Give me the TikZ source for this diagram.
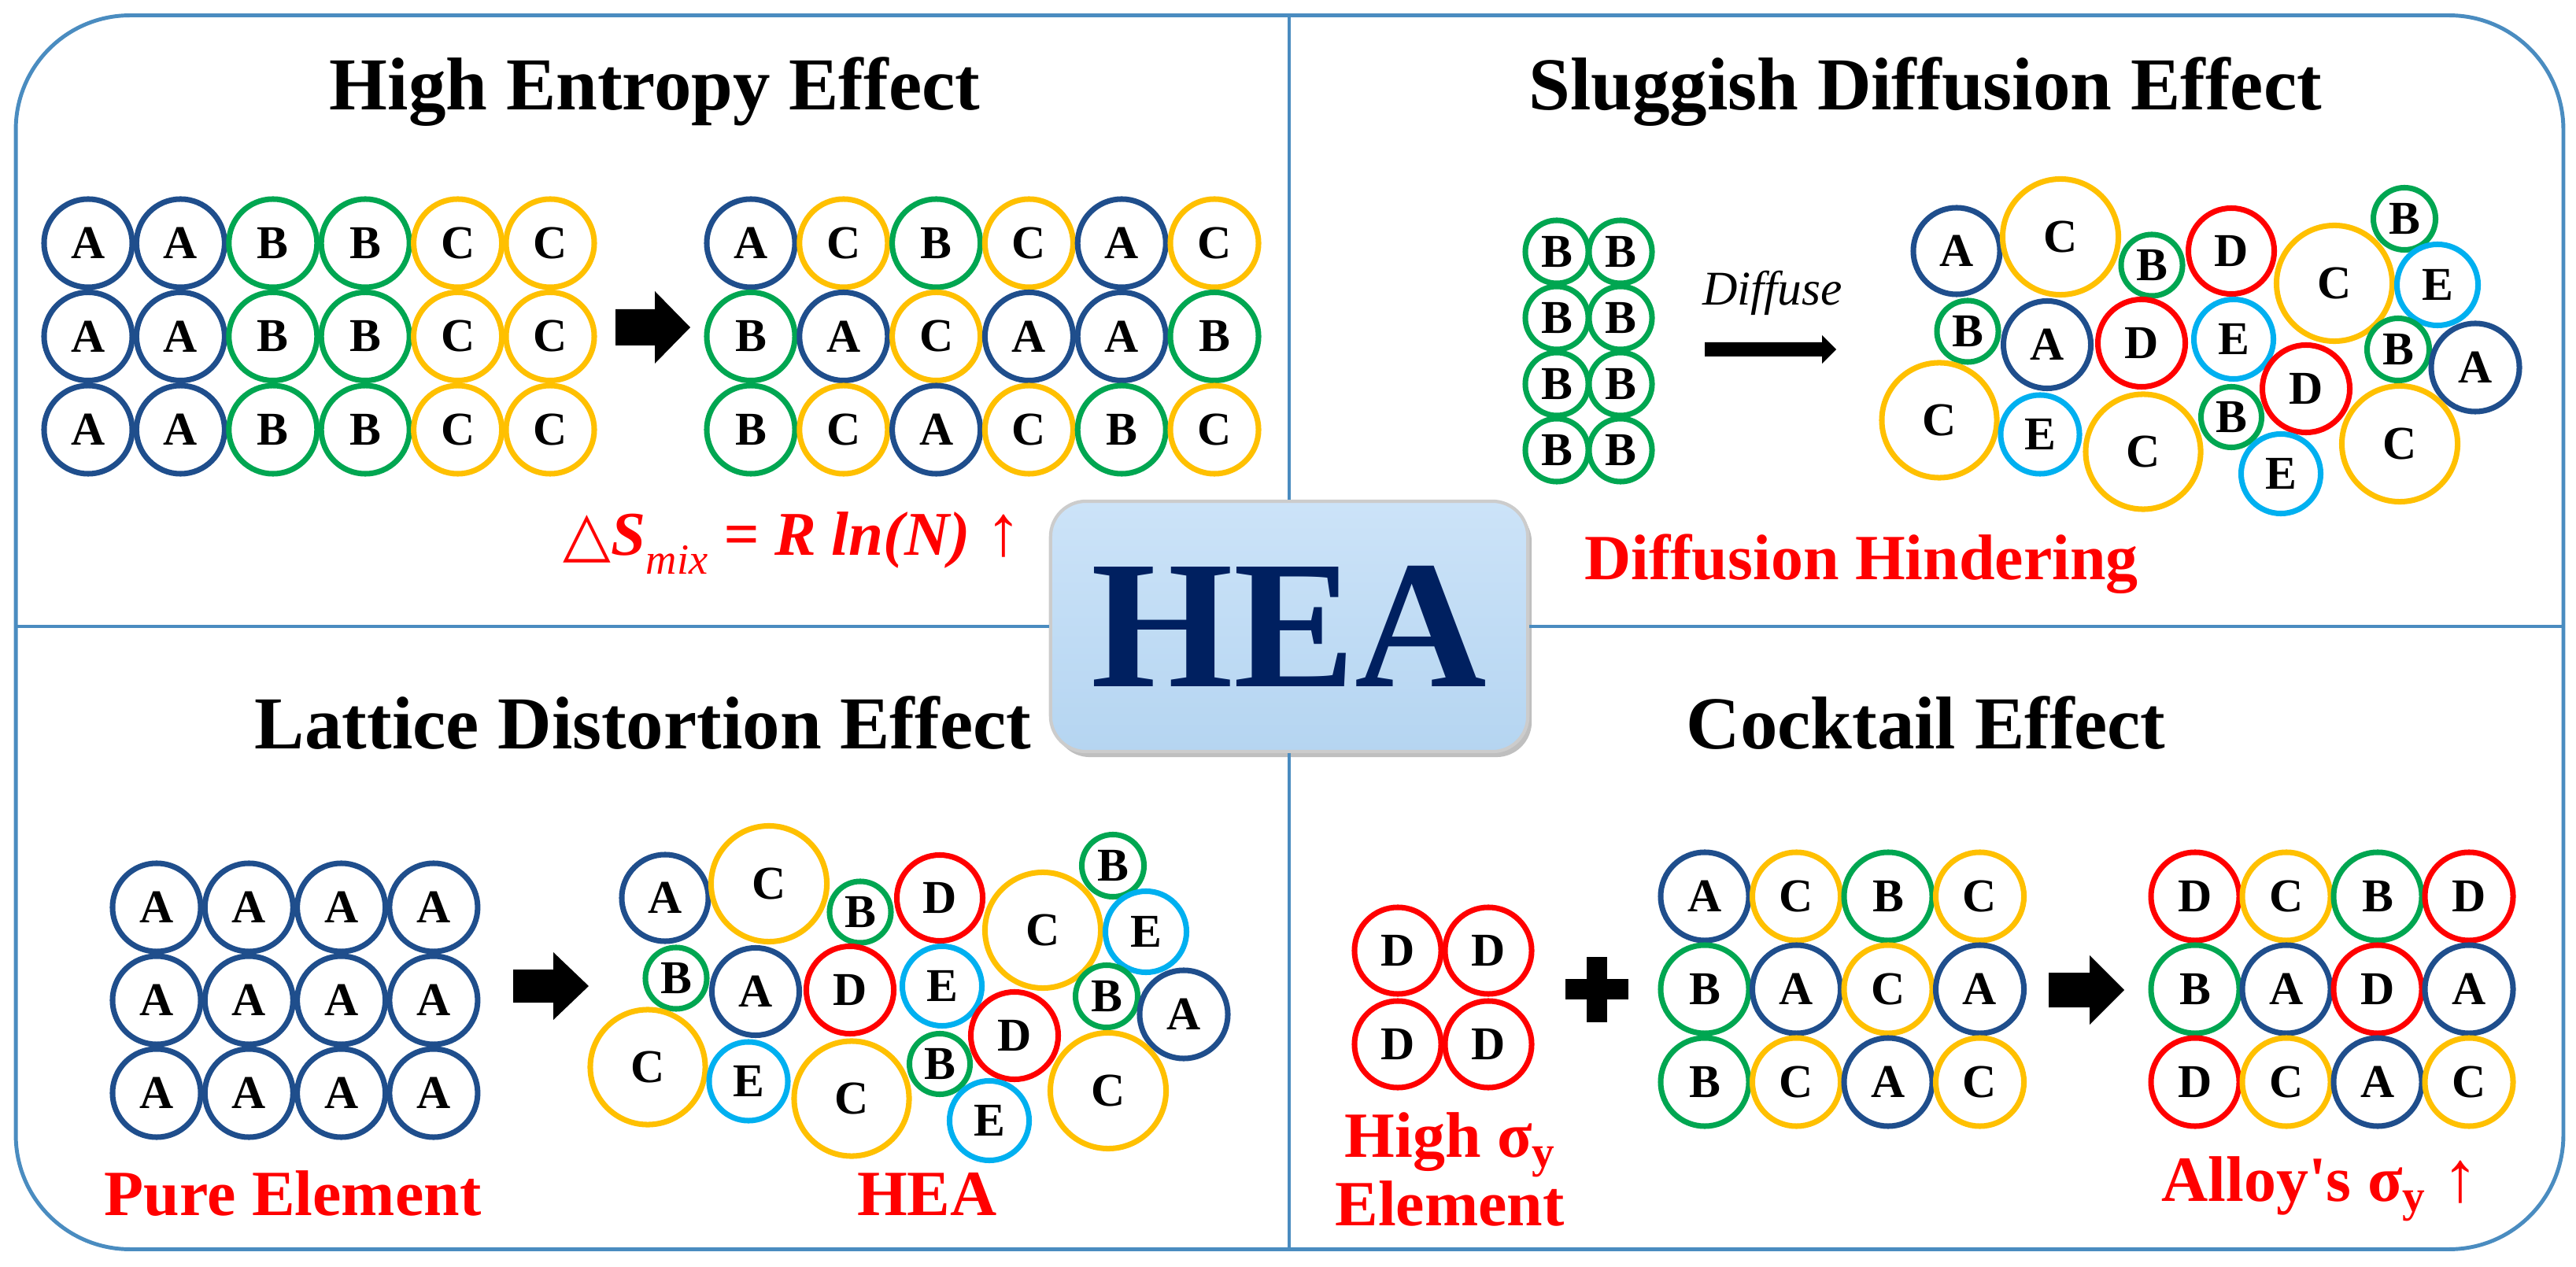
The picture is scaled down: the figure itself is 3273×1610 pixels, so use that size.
\documentclass[tikz,border=0pt]{standalone}
\usepackage{fontspec}
\setmainfont{Liberation Serif}
\newfontfamily\symfont{DejaVu Sans}
\usetikzlibrary{shadows}
\definecolor{atA}{HTML}{1F4E8C}
\definecolor{atB}{HTML}{00A651}
\definecolor{atC}{HTML}{FFC000}
\definecolor{atD}{HTML}{FF0000}
\definecolor{atE}{HTML}{00B0F0}
\definecolor{framec}{HTML}{4A8CC0}
\definecolor{heatxt}{HTML}{002060}
\definecolor{boxfill}{HTML}{B5D5F1}
\definecolor{boxtop}{HTML}{CCE3F8}
\definecolor{lblred}{HTML}{FF0000}
\begin{document}
\begin{tikzpicture}[x=0.01cm, y=-0.01cm,
  atom/.style={circle, draw=at#1, line width=2pt, inner sep=0pt,
    font=\fontsize{17}{17}\selectfont\bfseries, text=black},
  gridatom/.style={atom=#1, minimum size=1.12cm},
  title/.style={font=\fontsize{27}{30}\selectfont\bfseries, anchor=base},
  redlbl/.style={font=\fontsize{23.3}{26}\selectfont\bfseries, text=lblred, anchor=base},
  blockarrow/.style={fill=black},
  divider/.style={draw=framec, line width=1.4pt}
]
\fill[white] (0,0) rectangle (3273,1610);
\useasboundingbox (0,0) rectangle (3273,1610);

% frame
\node[draw=framec, line width=1.4pt, rounded corners=1.45cm, minimum width=32.35cm,
  minimum height=15.67cm, inner sep=0pt] (frame) at (1638.5,803.5) {};

% HEA box
\node[draw=gray!40, line width=1.2pt, rounded corners=0.45cm, minimum width=6.06cm,
  minimum height=3.18cm, top color=boxtop, bottom color=boxfill,
  drop shadow={shadow xshift=0.05cm, shadow yshift=-0.07cm, opacity=0.5},
  text=heatxt, font=\fontsize{66}{70}\selectfont\bfseries, inner sep=0pt] (hea) at (1638,796) {HEA};

\draw[divider] (hea.north) -- (hea.north |- frame.north);
\draw[divider] (hea.south) -- (hea.south |- frame.south);
\draw[divider] (hea.west) -- (hea.west -| frame.west);
\draw[divider] (hea.east) -- (hea.east -| frame.east);

% titles
\node[title] (t1) at (832,140) {High Entropy Effect};
\node[title] (t2) at (2446,140) {Sluggish Diffusion Effect};
\node[title] (t3) at (817,952) {Lattice Distortion Effect};
\node[title] (t4) at (2447,952) {Cocktail Effect};

% ---------- High entropy panel
\foreach \row [count=\ri from 0] in {{A,A,B,B,C,C},{A,A,B,B,C,C},{A,A,B,B,C,C}} {
  \foreach \l [count=\ci from 0] in \row {
    \node[gridatom=\l] (tlL-\ri-\ci) at ({112+117.4*\ci},{309+118.5*\ri}) {\l};
  }
}
\foreach \row [count=\ri from 0] in {{A,C,B,C,A,C},{B,A,C,A,A,B},{B,C,A,C,B,C}} {
  \foreach \l [count=\ci from 0] in \row {
    \node[gridatom=\l] (tlR-\ri-\ci) at ({954+117.8*\ci},{309+118.5*\ri}) {\l};
  }
}
\fill[blockarrow] (782,393) -- (832,393) -- (832,370) -- (877,416) -- (832,462) -- (832,439) -- (782,439) -- cycle;
\node[anchor=base, text=lblred, font=\fontsize{22.5}{24}\selectfont\bfseries\itshape] (eq) at (1007,706)
  {{\symfont\mdseries\upshape △}S\raisebox{-0.3em}{\fontsize{15.5}{16}\selectfont\mdseries mix}
   = R ln(N) {\mdseries\upshape\fontsize{26}{26}\selectfont ↑}};

% ---------- Sluggish diffusion panel
\foreach \ri in {0,1,2,3} {
  \foreach \ci in {0,1} {
    \node[atom=B, minimum size=0.80cm] (trB-\ri-\ci) at ({1978+81*\ci},{320+84*\ri}) {B};
  }
}
\node[anchor=base, font=\fontsize{17.5}{20}\selectfont\itshape] (diff) at (2252,388) {Diffuse};
\fill[blockarrow] (2166,435) -- (2315,435) -- (2315,426) -- (2333,444) -- (2315,462) -- (2315,453) -- (2166,453) -- cycle;
\node[redlbl] (lh) at (2365,737) {Diffusion Hindering};

% clusters (top right and bottom left)
\foreach \pre/\dx/\dy in {tr/0/0, bl/-1641/822} {
  \foreach \l/\x/\y/\s [count=\i] in {A/2486/319/1.10cm, C/2618/301/1.47cm, B/2734/337/0.78cm,
      D/2835/319/1.09cm, C/2966/360/1.47cm, B/3055/278/0.79cm, E/3097/362/1.03cm,
      B/2500/421/0.78cm, A/2601/438/1.11cm, D/2721/436/1.11cm, E/2838/431/1.01cm,
      B/3047/444/0.79cm, A/3145/467/1.12cm, D/2930/494/1.11cm, C/2464/534/1.46cm,
      E/2592/552/1.00cm, C/2723/574/1.46cm, B/2835/530/0.77cm, E/2898/602/1.01cm,
      C/3049/564/1.47cm} {
    \node[atom=\l, minimum size=\s] (\pre\i) at ({\x+\dx},{\y+\dy}) {\l};
  }
}

% ---------- Lattice distortion panel
\foreach \ri in {0,1,2} {
  \foreach \ci in {0,1,2,3} {
    \node[gridatom=A] (blP-\ri-\ci) at ({199+117.3*\ci},{1153+118*\ri}) {A};
  }
}
\fill[blockarrow] (652,1232) -- (703,1232) -- (703,1210) -- (748,1253) -- (703,1296) -- (703,1274) -- (652,1274) -- cycle;
\node[redlbl] (lp) at (372,1544) {Pure Element};
\node[redlbl] (lhea) at (1178,1544) {HEA};

% ---------- Cocktail panel
\foreach \ri in {0,1} {
  \foreach \ci in {0,1} {
    \node[atom=D, minimum size=1.10cm] (brD-\ri-\ci) at ({1776+115*\ci},{1208+119*\ri}) {D};
  }
}
\fill[blockarrow] (2016,1216) rectangle (2042,1299);
\fill[blockarrow] (1989,1244) rectangle (2069,1270);
\foreach \row [count=\ri from 0] in {{A,C,B,C},{B,A,C,A},{B,C,A,C}} {
  \foreach \l [count=\ci from 0] in \row {
    \node[gridatom=\l] (brM-\ri-\ci) at ({2166+116.5*\ci},{1139+118*\ri}) {\l};
  }
}
\fill[blockarrow] (2603,1236) -- (2655,1236) -- (2655,1214) -- (2699,1258) -- (2655,1302) -- (2655,1280) -- (2603,1280) -- cycle;
\foreach \row [count=\ri from 0] in {{D,C,B,D},{B,A,D,A},{D,C,A,C}} {
  \foreach \l [count=\ci from 0] in \row {
    \node[gridatom=\l] (brR-\ri-\ci) at ({2789+116*\ci},{1139+118*\ri}) {\l};
  }
}
\node[redlbl] (lhs) at (1843,1470) {High σ\textsubscript{y}};
\node[redlbl] (lel) at (1842,1557) {Element};
\node[redlbl] (las) at (2948,1526) {Alloy\textquotesingle s σ\textsubscript{y} {\mdseries\fontsize{26}{26}\selectfont ↑}};
\end{tikzpicture}
\end{document}
